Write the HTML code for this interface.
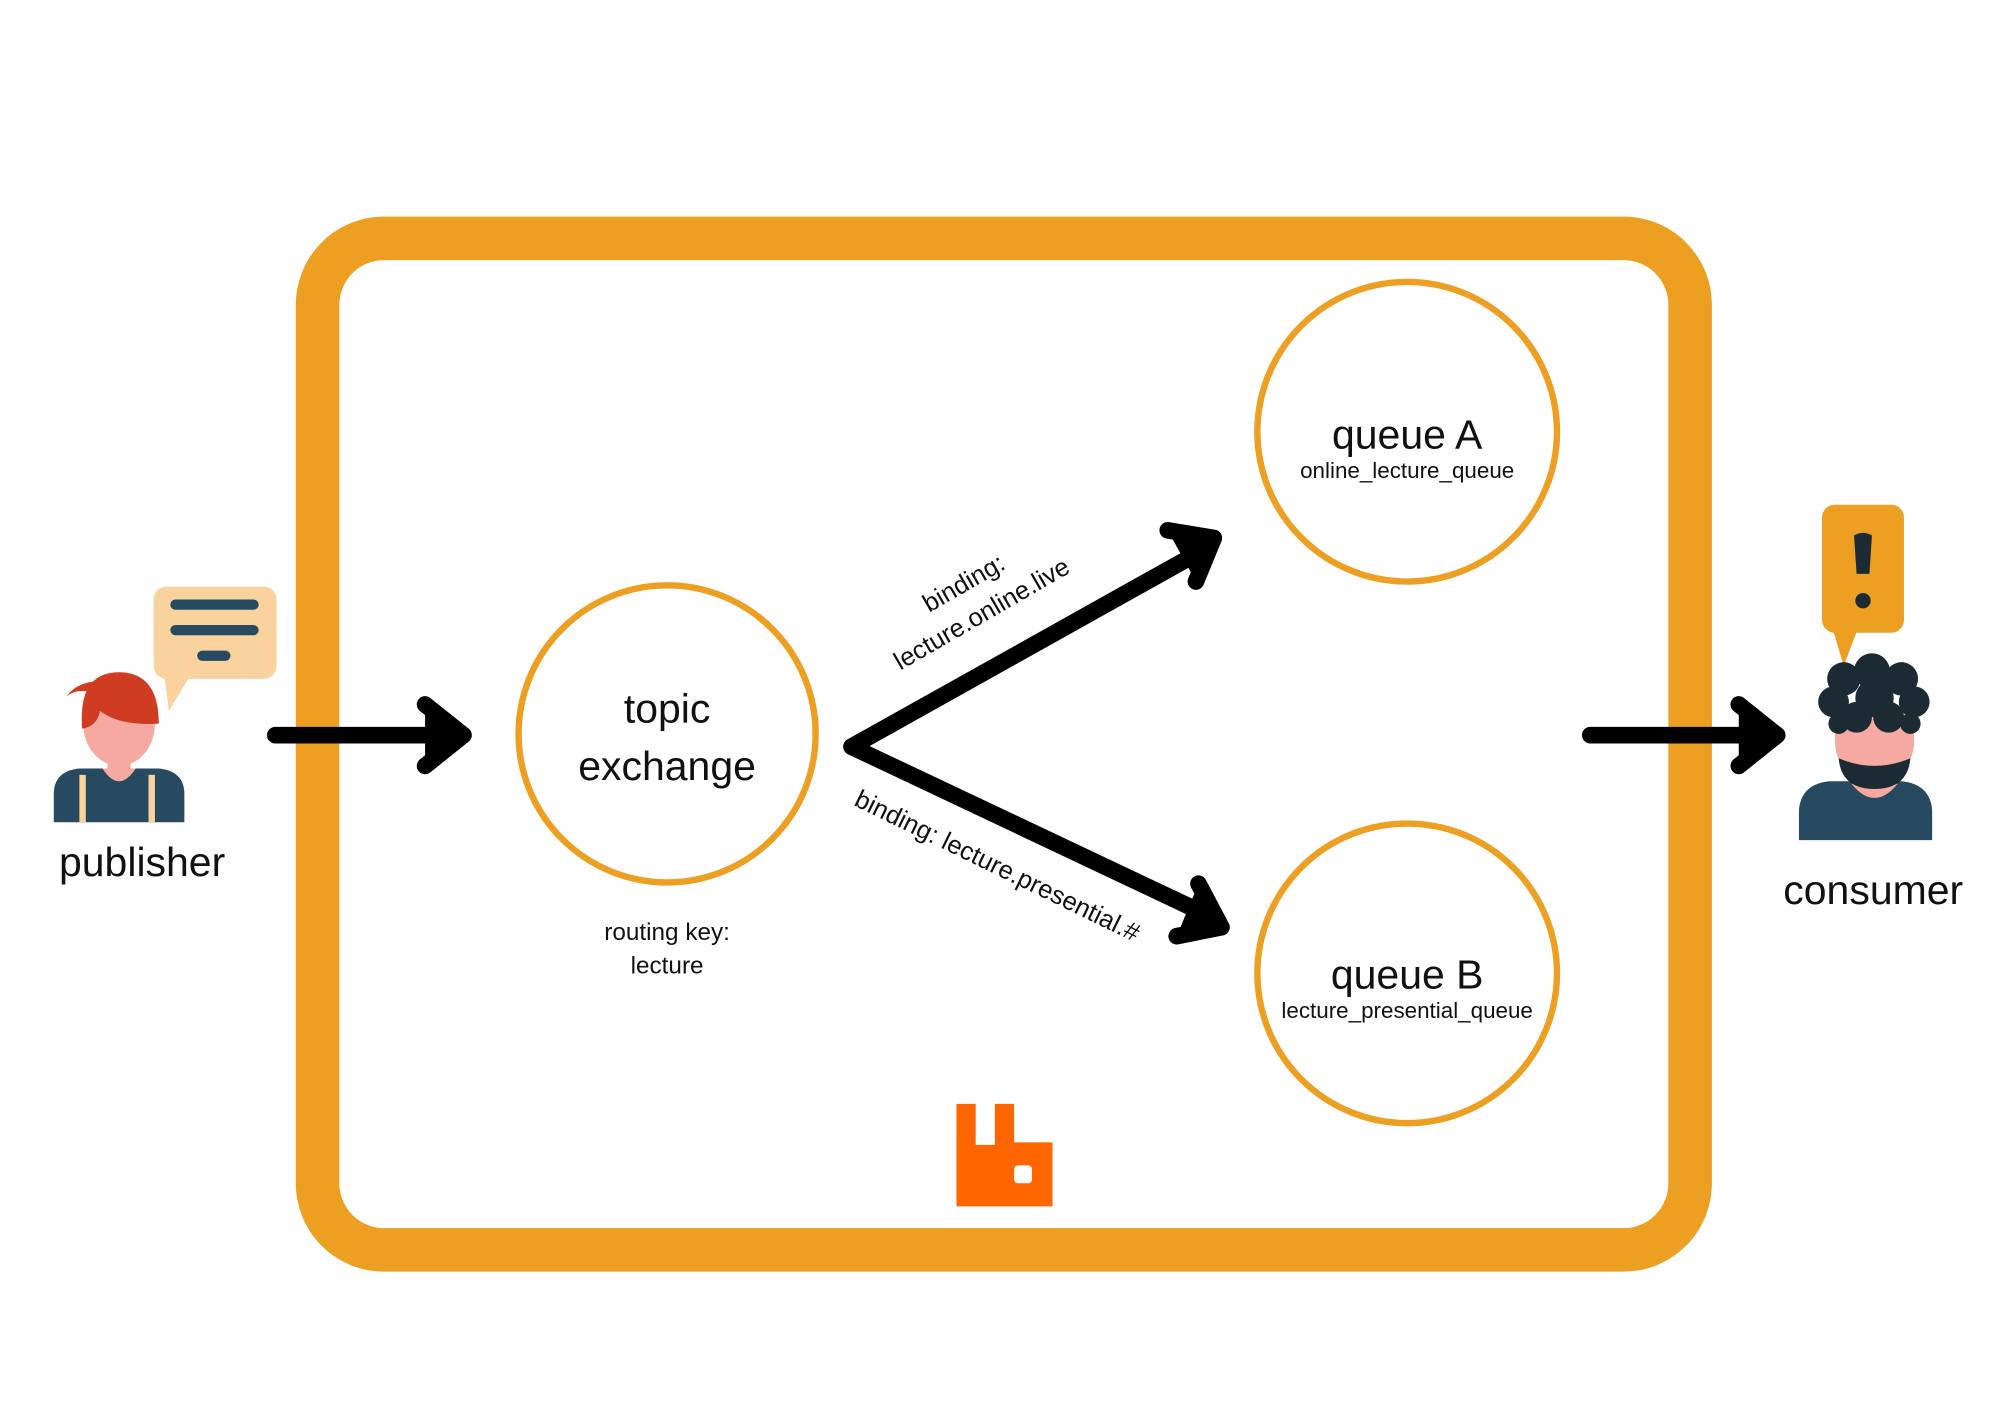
<!DOCTYPE html>
<html><head><meta charset="utf-8"><style>
html,body{margin:0;padding:0;background:#fff;}
svg{display:block;}
text{font-family:"Liberation Sans",sans-serif;fill:#111;}
</style></head><body>
<svg width="2000" height="1414" viewBox="0 0 1562 1104" xmlns="http://www.w3.org/2000/svg">
<rect width="1562" height="1104" fill="#fff"/>
<rect x="248" y="186" width="1072" height="790" rx="52" fill="none" stroke="#ED9F22" stroke-width="34"/>
<circle cx="521" cy="573" r="116" fill="none" stroke="#ED9F22" stroke-width="5"/>
<circle cx="1099" cy="337" r="117" fill="none" stroke="#ED9F22" stroke-width="5"/>
<circle cx="1099" cy="760" r="117" fill="none" stroke="#ED9F22" stroke-width="5"/>
<text x="521" y="564" font-size="32" text-anchor="middle">topic</text>
<text x="521" y="609" font-size="32" text-anchor="middle">exchange</text>
<text x="521" y="734" font-size="19" text-anchor="middle">routing key:</text>
<text x="521" y="760" font-size="19" text-anchor="middle">lecture</text>
<text x="1099" y="350" font-size="32" text-anchor="middle">queue A</text>
<text x="1099" y="373" font-size="17.5" text-anchor="middle">online_lecture_queue</text>
<text x="1099" y="772" font-size="32" text-anchor="middle">queue B</text>
<text x="1099" y="795" font-size="17.5" text-anchor="middle">lecture_presential_queue</text>
<g stroke="#000" stroke-width="13" fill="none" stroke-linecap="round" stroke-linejoin="round">
<line x1="215" y1="574" x2="350" y2="574"/>
<polyline points="332,550 362,574 332,598"/>
<line x1="1242" y1="574" x2="1378" y2="574"/>
<polyline points="1358,550 1388,574 1358,598"/>
<polyline points="935,432 665,583 942,714"/>
<polyline points="912,414 948,420 934,454"/>
<polyline points="936,690 954,724 919,731"/>
</g>
<polygon points="912,414 948,420 934,454" fill="#000"/>
<polygon points="936,690 954,724 919,731" fill="#000"/>
<polygon points="332,550 362,574 332,598" fill="#000"/>
<polygon points="1358,550 1388,574 1358,598" fill="#000"/>
<text transform="translate(756,461) rotate(-30)" font-size="20" text-anchor="middle">binding:</text>
<text transform="translate(770,485) rotate(-30)" font-size="20" text-anchor="middle">lecture.online.live</text>
<text transform="translate(776,682) rotate(26)" font-size="20" text-anchor="middle">binding: lecture.presential.#</text>
<!-- rabbit logo -->
<path d="M747,862 h15 v32 h15 v-32 h15 v30 h30 v50 h-75 z" fill="#FF6600"/>
<rect x="792" y="910" width="14" height="14" rx="3" fill="#fff"/>
<!-- publisher -->
<rect x="120" y="458" width="96" height="72" rx="10" fill="#F9D29E"/>
<polygon points="128,525 150,525 132,555" fill="#F9D29E"/>
<g stroke="#274A60" stroke-width="8" stroke-linecap="round">
<line x1="137" y1="472" x2="198" y2="472"/><line x1="137" y1="492" x2="198" y2="492"/><line x1="158" y1="512" x2="176" y2="512"/>
</g>
<path d="M42,642 v-22 q0,-18 20,-20 h62 q20,2 20,20 v22 z" fill="#274A60"/>
<rect x="62" y="605" width="5" height="37" fill="#F9D29E"/><rect x="116" y="605" width="5" height="37" fill="#F9D29E"/>
<path d="M80,600 q13,20 26,0 z" fill="#F5A9A0"/>
<rect x="84" y="585" width="18" height="18" fill="#F5A9A0"/>
<ellipse cx="93" cy="565" rx="28" ry="33" fill="#F5A9A0"/>
<path d="M64,565 q-2,-42 32,-40 q28,2 28,40 q-30,2 -46,-10 q-2,12 -14,14 z" fill="#D03C22"/>
<path d="M70,540 q-12,-2 -18,4 q6,-10 22,-12 z" fill="#D03C22"/>
<text x="111" y="684" font-size="32" text-anchor="middle">publisher</text>
<!-- consumer -->
<rect x="1423" y="394" width="64" height="100" rx="10" fill="#ED9F22"/>
<polygon points="1428,480 1455,480 1440,520" fill="#ED9F22"/>
<path d="M1448,418 q7,-4 14,0 l-2,30 h-10 z" fill="#1C2A33"/>
<circle cx="1455" cy="469" r="6" fill="#1C2A33"/>
<path d="M1405,656 v-24 q2,-20 24,-22 h56 q22,2 24,22 v24 z" fill="#274A60"/>
<path d="M1446,612 q18,22 36,0 z" fill="#F5A9A0"/>
<ellipse cx="1464" cy="578" rx="31" ry="34" fill="#F5A9A0"/>
<path d="M1436,592 q28,12 56,0 q-2,24 -28,24 q-26,0 -28,-24 z" fill="#1C2A33"/>
<g fill="#1C2A33">
<circle cx="1440" cy="530" r="13"/><circle cx="1462" cy="524" r="14"/><circle cx="1485" cy="530" r="13"/>
<circle cx="1432" cy="548" r="12"/><circle cx="1495" cy="548" r="12"/>
<circle cx="1450" cy="560" r="12"/><circle cx="1475" cy="560" r="12"/><circle cx="1464" cy="545" r="15"/>
<circle cx="1436" cy="565" r="8"/><circle cx="1492" cy="565" r="8"/>
</g>
<text x="1463" y="706" font-size="32" text-anchor="middle">consumer</text>
</svg>
</body></html>
